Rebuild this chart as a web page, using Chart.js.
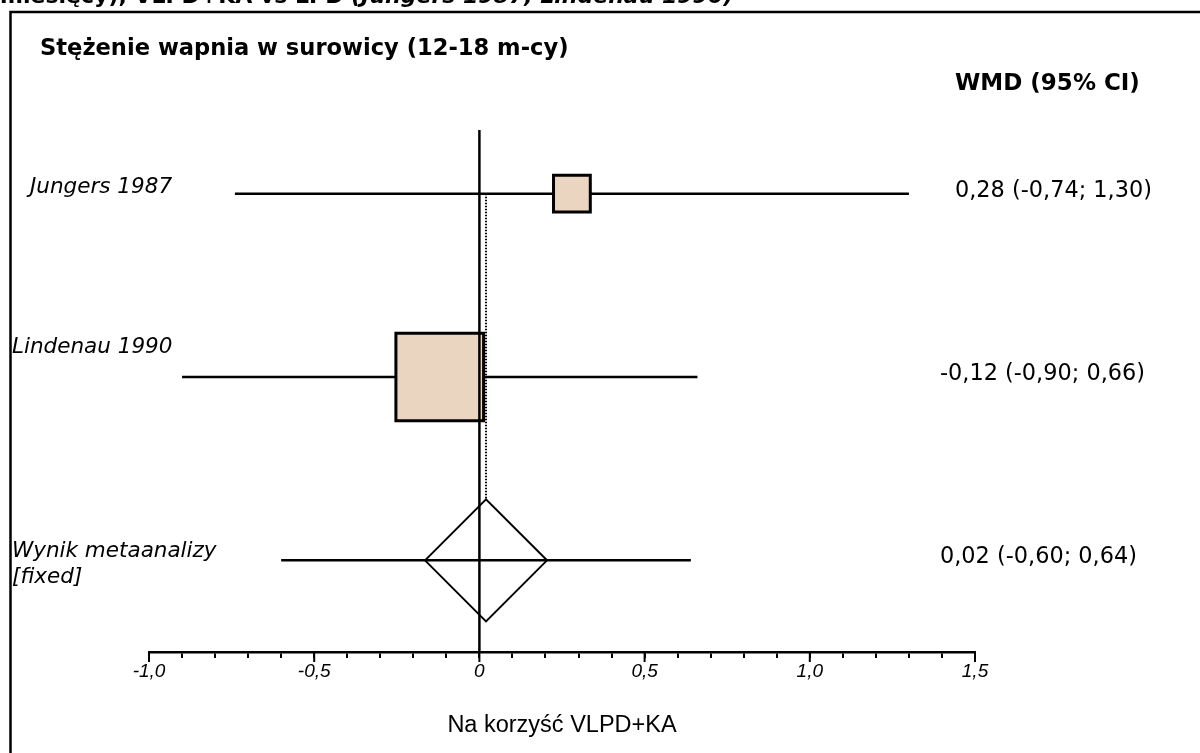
<!DOCTYPE html>
<html lang="pl">
<head>
<meta charset="utf-8">
<title>Stężenie wapnia w surowicy</title>
<script src="https://cdn.jsdelivr.net/npm/chart.js@4/dist/chart.umd.min.js"></script>
<style>
  html, body { margin: 0; padding: 0; background: #fff; }
  #wrap { position: relative; width: 1200px; height: 753px; }
</style>
</head>
<body>
<div id="wrap"><canvas id="forest"></canvas></div>
<script>
// ---------- Data ----------
const studies = ["Jungers 1987", "Lindenau 1990"];
const wmd = [0.28, -0.12];
const ciLow = [-0.74, -0.90];
const ciHigh = [1.30, 0.66];

const pooledLabel = ["Wynik metaanalizy", "[fixed]"];
const pooledWmd = 0.02;
const pooledLow = -0.60;
const pooledHigh = 0.64;

const xTickValues = [-1.0, -0.5, 0, 0.5, 1.0, 1.5];
const xTickLabels = ["-1,0", "-0,5", "0", "0,5", "1,0", "1,5"];

const rowLabels = [...studies, pooledLabel.join(" ")];

// ---------- Helpers ----------
const fmt = (v) => v.toFixed(2).replace(".", ",");
const ciText = (m, lo, hi) => `${fmt(m)} (${fmt(lo)}; ${fmt(hi)})`;
const FONT = '"DejaVu Sans", Verdana, sans-serif';

function labelFor(value) {
  const i = xTickValues.findIndex((t) => Math.abs(t - value) < 1e-6);
  return i >= 0 ? xTickLabels[i] : "";
}

// ---------- Datasets ----------
// confidence interval whiskers, one per row
const ciLines = studies.map((s, i) => ({
  type: "scatter",
  showLine: true,
  data: [{ x: ciLow[i], y: rowLabels[i] }, { x: ciHigh[i], y: rowLabels[i] }],
  borderColor: "#000",
  borderWidth: 2.5,
  pointRadius: 0,
  order: 2
}));

ciLines.push({
  type: "scatter",
  showLine: true,
  data: [{ x: pooledLow, y: rowLabels[2] }, { x: pooledHigh, y: rowLabels[2] }],
  borderColor: "#000",
  borderWidth: 2.5,
  pointRadius: 0,
  order: 2
});

// study estimates, box size ~ weight
const squares = {
  type: "scatter",
  data: studies.map((s, i) => ({ x: wmd[i], y: rowLabels[i] })),
  pointStyle: "rect",
  pointRadius: (ctx) => (ctx.dataIndex === 0 ? 26 : 62),
  backgroundColor: "#e9d5c0",
  borderColor: "#000",
  borderWidth: 3,
  order: 0
};

// pooled estimate
const diamond = {
  type: "scatter",
  data: [{ x: pooledWmd, y: rowLabels[2] }],
  pointStyle: "rectRot",
  pointRadius: 61,
  backgroundColor: "rgba(255,255,255,0)",
  borderColor: "#000",
  borderWidth: 2,
  order: 0
};

// ---------- Extra drawing: frame, reference lines, texts ----------
const forestDecor = {
  id: "forestDecor",
  afterDatasetsDraw(chart) {
    const { ctx, chartArea, scales: { x, y } } = chart;
    ctx.save();
    ctx.strokeStyle = "#000";

    // line of no effect
    const x0 = x.getPixelForValue(0);
    ctx.lineWidth = 2.5;
    ctx.beginPath();
    ctx.moveTo(x0, chartArea.top + 28);
    ctx.lineTo(x0, chartArea.bottom);
    ctx.stroke();

    // dotted line at the pooled estimate
    const xp = x.getPixelForValue(pooledWmd);
    ctx.lineWidth = 2;
    ctx.setLineDash([1.5, 1.5]);
    ctx.beginPath();
    ctx.moveTo(xp, y.getPixelForValue(0));
    ctx.lineTo(xp, y.getPixelForValue(2) - 61);
    ctx.stroke();
    ctx.restore();
  },
  afterDraw(chart) {
    const { ctx, chartArea, scales: { x, y } } = chart;
    ctx.save();
    ctx.fillStyle = "#000";
    ctx.strokeStyle = "#000";

    // longer ticks at the labelled values
    ctx.lineWidth = 2;
    xTickValues.forEach((v) => {
      const px = x.getPixelForValue(v);
      ctx.beginPath();
      ctx.moveTo(px, chartArea.bottom);
      ctx.lineTo(px, chartArea.bottom + 10);
      ctx.stroke();
    });

    // frame
    ctx.lineWidth = 2.5;
    ctx.beginPath();
    ctx.moveTo(10.5, 753);
    ctx.lineTo(10.5, 12);
    ctx.lineTo(1200, 12);
    ctx.stroke();

    ctx.textBaseline = "alphabetic";
    ctx.textAlign = "left";

    // header line (cut by the top edge)
    ctx.font = `bold 22px ${FONT}`;
    const head1 = "miesięcy), VLPD+KA vs LPD ";
    ctx.fillText(head1, 0, 3);
    const w1 = ctx.measureText(head1).width;
    ctx.font = `italic bold 22px ${FONT}`;
    ctx.fillText("(Jungers 1987, Lindenau 1990)", w1, 3);

    // panel title and column header
    ctx.font = `bold 22.6px ${FONT}`;
    ctx.fillText("Stężenie wapnia w surowicy (12-18 m-cy)", 40, 55);
    ctx.font = `bold 23px ${FONT}`;
    ctx.fillText("WMD (95% CI)", 955, 90);

    // study labels
    ctx.font = `italic 21.5px ${FONT}`;
    const r0 = y.getPixelForValue(0);
    const r1 = y.getPixelForValue(1);
    const r2 = y.getPixelForValue(2);
    ctx.fillText(studies[0], 30, r0 - 1);
    ctx.fillText(studies[1], 12, r1 - 24);
    ctx.fillText(pooledLabel[0], 12, r2 - 3);
    ctx.fillText(pooledLabel[1], 12, r2 + 23);

    // effect sizes with confidence intervals
    ctx.font = `22.4px ${FONT}`;
    ctx.fillText(ciText(wmd[0], ciLow[0], ciHigh[0]), 955, r0 + 3);
    ctx.fillText(ciText(wmd[1], ciLow[1], ciHigh[1]), 940, r1 + 3);
    ctx.fillText(ciText(pooledWmd, pooledLow, pooledHigh), 940, r2 + 3);
    ctx.restore();
  }
};

// ---------- Chart ----------
new Chart(document.getElementById("forest"), {
  type: "scatter",
  data: { datasets: [squares, diamond, ...ciLines] },
  options: {
    responsive: true,
    maintainAspectRatio: false,
    devicePixelRatio: 1,
    animation: false,
    events: [],
    layout: { padding: { left: 149, right: 225, top: 102, bottom: 0 } },
    plugins: { legend: { display: false }, tooltip: { enabled: false } },
    scales: {
      x: {
        type: "linear",
        min: -1,
        max: 1.5,
        afterFit: (scale) => { scale.height = 101; },
        border: { display: true, color: "#000", width: 2.5 },
        grid: {
          drawOnChartArea: false,
          drawTicks: true,
          tickLength: 6,
          color: "#000",
          lineWidth: 2
        },
        ticks: {
          stepSize: 0.1,
          autoSkip: false,
          maxTicksLimit: 40,
          maxRotation: 0,
          padding: 2,
          color: "#000",
          font: { family: '"Liberation Sans Narrow", "Liberation Sans", Arial, sans-serif', size: 19, style: "italic" },
          callback: (v) => labelFor(v)
        },
        title: {
          display: true,
          text: "Na korzyść VLPD+KA",
          color: "#000",
          font: { family: '"Liberation Sans", Arial, sans-serif', size: 23.5 },
          padding: { top: 0, bottom: 13 }
        }
      },
      y: {
        type: "category",
        labels: rowLabels,
        offset: true,
        display: false
      }
    }
  },
  plugins: [forestDecor]
});
</script>
</body>
</html>
